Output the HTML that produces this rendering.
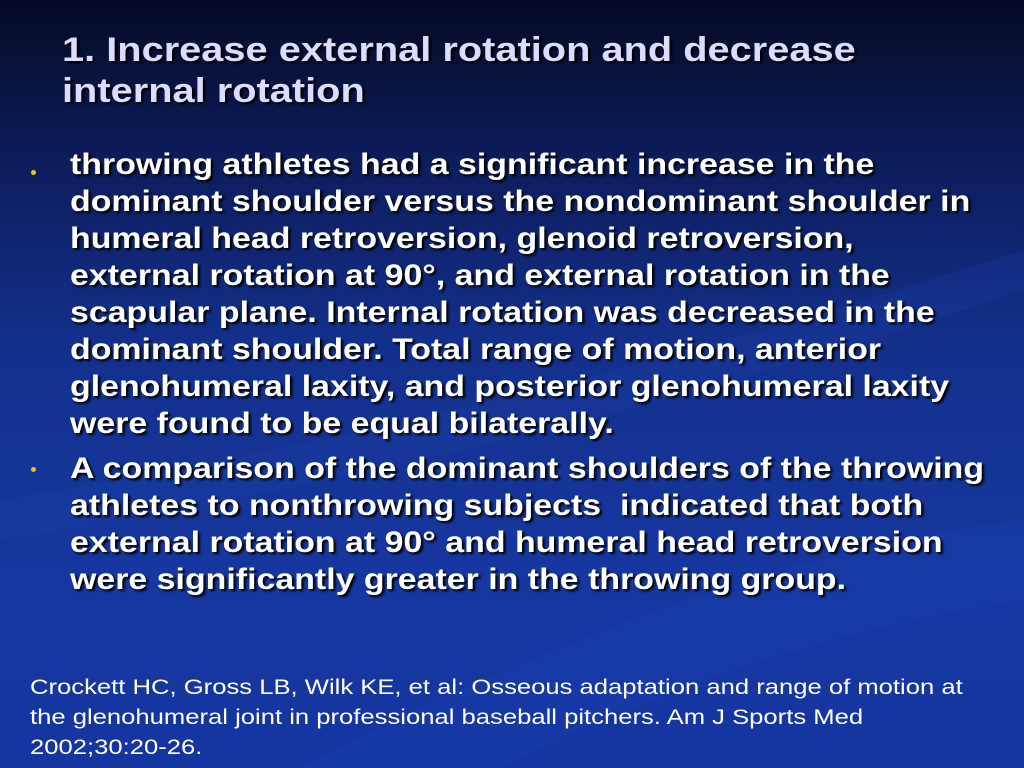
<!DOCTYPE html>
<html><head><meta charset="utf-8"><style>
html,body{margin:0;padding:0;}
body{width:1024px;height:768px;overflow:hidden;position:relative;font-family:"Liberation Sans",sans-serif;
background:linear-gradient(180deg,#050a24 0%,#0c1a55 18%,#13308c 45%,#1637a0 75%,#1535a0 100%);}
.title{position:absolute;left:62px;top:30px;font-size:34px;font-weight:bold;color:#dcdcff;line-height:41px;text-shadow:2px 2px 2px #000;white-space:nowrap;transform:scaleX(1.17);transform-origin:0 0;}
.b{position:absolute;left:70px;font-size:30px;font-weight:bold;color:#fff;line-height:37px;text-shadow:2px 2px 2px #000;white-space:nowrap;transform:scaleX(1.13);transform-origin:0 0;}
.dot{position:absolute;left:31px;width:5px;height:5px;background:#e8c800;border-radius:50%;}
.cite{position:absolute;left:30px;top:673px;font-size:21px;color:#fff;line-height:30px;white-space:nowrap;transform:scaleX(1.22);transform-origin:0 0;}
</style></head><body>
<svg style="position:absolute;left:0;top:0" width="1024" height="768">
<path d="M300 768 Q700 560 1024 520 L1024 600 Q760 640 500 768Z" fill="#1a40b0" opacity="0.35"/>
<path d="M0 500 Q500 420 1024 250 L1024 290 Q520 460 0 540Z" fill="#1c3ea8" opacity="0.25"/>
</svg>
<div class="title">1. Increase external rotation and decrease<br>internal rotation</div>
<div class="dot" style="top:170px"></div>
<div class="b" style="top:146px">throwing athletes had a significant increase in the<br>dominant shoulder versus the nondominant shoulder in<br>humeral head retroversion, glenoid retroversion,<br>external rotation at 90°, and external rotation in the<br>scapular plane. Internal rotation was decreased in the<br>dominant shoulder. Total range of motion, anterior<br>glenohumeral laxity, and posterior glenohumeral laxity<br>were found to be equal bilaterally.</div>
<div class="dot" style="top:467px"></div>
<div class="b" style="top:450px">A comparison of the dominant shoulders of the throwing<br>athletes to nonthrowing subjects&nbsp; indicated that both<br>external rotation at 90° and humeral head retroversion<br>were significantly greater in the throwing group.</div>
<div class="cite">Crockett HC, Gross LB, Wilk KE, et al: Osseous adaptation and range of motion at<br>the glenohumeral joint in professional baseball pitchers. Am J Sports Med<br>2002;30:20-26.</div>
</body></html>
